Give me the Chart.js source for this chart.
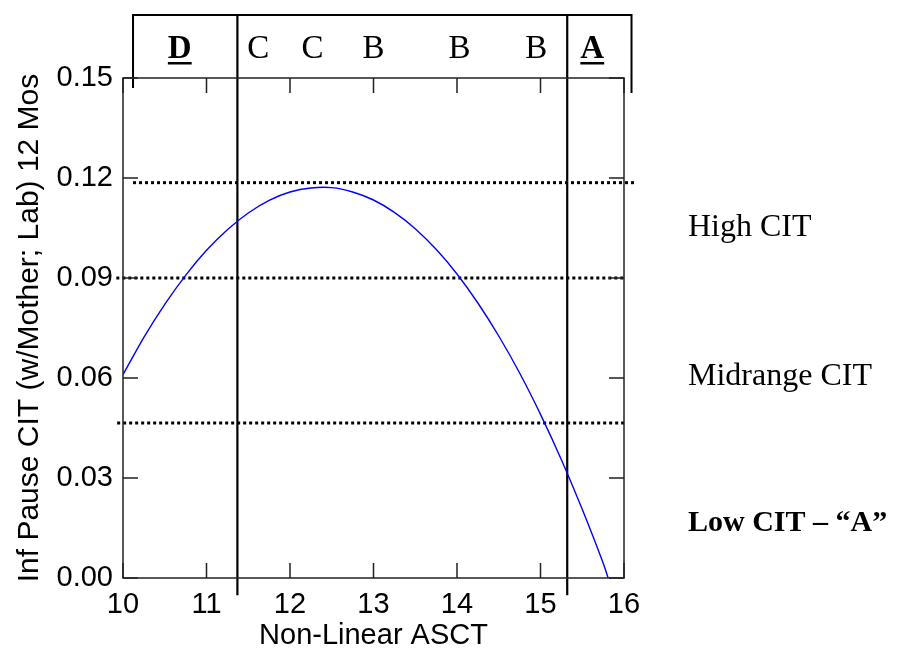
<!DOCTYPE html>
<html>
<head>
<meta charset="utf-8">
<script src="https://cdn.jsdelivr.net/npm/chart.js@4.4.1/dist/chart.umd.min.js"></script>
<style>
  html, body { margin: 0; padding: 0; background: #fff; }
  canvas { display: block; }
</style>
</head>
<body>
<canvas id="citChart" width="903" height="653"></canvas>
<script>
// fitted curve: Inf Pause CIT against Non-Linear ASCT
const ascct = [10, 10.25, 10.5, 10.75, 11, 11.25, 11.5, 11.75, 12, 12.25, 12.5, 12.75,
    13, 13.25, 13.5, 13.75, 14, 14.25, 14.5, 14.75, 15, 15.25, 15.5, 15.75, 15.81];
const citFit = [0.061, 0.0722, 0.0821, 0.0908, 0.0983, 0.1045, 0.1095, 0.1133, 0.1158, 0.117, 0.1171, 0.1158,
    0.1134, 0.1097, 0.1048, 0.0986, 0.0912, 0.0825, 0.0726, 0.0615, 0.0491, 0.0355, 0.0206, 0.0045, 0];

// CIT cut-offs (dotted) and ASCT cut-offs (solid)
const citCutoffs = [0.1186, 0.09, 0.0465];
const ascctCutoffs = [11.37, 15.32];

// grade letters along the top band
const gradeLetters = ['D', 'C', 'C', 'B', 'B', 'B', 'A'];
const gradeAt = [10.68, 11.62, 12.27, 13.0, 14.03, 14.95, 15.62];
const gradeBold = [true, false, false, false, false, false, true];

// zone names on the right
const zoneNames = ['High CIT', 'Midrange CIT', 'Low CIT \u2013 \u201CA\u201D'];
const zoneAt = [0.105, 0.0603, 0.0165];
const zoneBold = [false, false, true];

const xTicks = [10, 11, 12, 13, 14, 15, 16];
const yTicks = [0, 0.03, 0.06, 0.09, 0.12, 0.15];

const SANS = '"Liberation Sans", Arial, sans-serif';
const SERIF = '"Liberation Serif", "Times New Roman", serif';

const cutoffStarts = [10.12, 9.92, 9.93];
const cutoffEnds = [16.15, 16.0, 16.0];

const datasets = [{
    data: ascct.map((x, i) => ({ x, y: citFit[i] })),
    borderColor: '#0000ff',
    borderWidth: 1.4,
    pointRadius: 0,
    tension: 0.3,
}];

citCutoffs.forEach((c, i) => {
    datasets.push({
        data: [{ x: cutoffStarts[i], y: c }, { x: cutoffEnds[i], y: c }],
        borderColor: '#000',
        borderWidth: 3,
        borderDash: [3, 3],
        borderCapStyle: 'butt',
        pointRadius: 0,
        clip: false,
    });
});

ascctCutoffs.forEach(c => {
    datasets.push({
        data: [{ x: c, y: 0.1689 }, { x: c, y: -0.0052 }],
        borderColor: '#000',
        borderWidth: 2.2,
        pointRadius: 0,
        clip: false,
    });
});

// open box holding the grade letters (drawn right to left)
datasets.push({
    data: [{ x: 16.09, y: 0.1455 }, { x: 16.09, y: 0.1689 }, { x: 10.12, y: 0.1689 }, { x: 10.12, y: 0.147 }],
    borderColor: '#000',
    borderWidth: 2,
    pointRadius: 0,
    clip: false,
});

const frameAndLabels = {
    id: 'frameAndLabels',
    afterDatasetsDraw(chart) {
        const { ctx, chartArea: a, scales: { x, y } } = chart;
        ctx.save();
        ctx.strokeStyle = '#222';
        ctx.lineWidth = 1.5;
        ctx.strokeRect(a.left, a.top, a.right - a.left, a.bottom - a.top);

        // inward tick marks on all four sides
        const len = 15;
        ctx.beginPath();
        xTicks.forEach(v => {
            const px = x.getPixelForValue(v);
            ctx.moveTo(px, a.bottom); ctx.lineTo(px, a.bottom - len);
            ctx.moveTo(px, a.top); ctx.lineTo(px, a.top + len);
        });
        yTicks.forEach(v => {
            const py = y.getPixelForValue(v);
            ctx.moveTo(a.left, py); ctx.lineTo(a.left + len, py);
            ctx.moveTo(a.right, py); ctx.lineTo(a.right - len, py);
        });
        ctx.stroke();

        ctx.fillStyle = '#000';
        ctx.textBaseline = 'middle';
        ctx.textAlign = 'center';
        gradeLetters.forEach((g, i) => {
            ctx.font = (gradeBold[i] ? 'bold ' : '') + '33px ' + SERIF;
            const px = x.getPixelForValue(gradeAt[i]);
            const py = a.top - 29;
            ctx.fillText(g, px, py);
            if (gradeBold[i]) {
                const w = ctx.measureText(g).width;
                ctx.fillRect(px - w / 2, py + 13, w, 2.5);
            }
        });

        ctx.textAlign = 'left';
        zoneNames.forEach((z, i) => {
            ctx.font = (zoneBold[i] ? 'bold 30px ' : '32px ') + SERIF;
            ctx.fillText(z, 688, y.getPixelForValue(zoneAt[i]));
        });
        ctx.restore();
    }
};

new Chart(document.getElementById('citChart'), {
    type: 'line',
    data: { datasets },
    plugins: [frameAndLabels],
    options: {
        responsive: false,
        animation: false,
        layout: { padding: { top: 78, right: 279, left: 0, bottom: 0 } },
        plugins: { legend: { display: false }, tooltip: { enabled: false } },
        scales: {
            x: {
                type: 'linear',
                min: 10,
                max: 16,
                afterFit: s => { s.height = 75; },
                grid: { display: false, drawTicks: false },
                border: { display: false },
                ticks: {
                    stepSize: 1,
                    padding: 10,
                    color: '#000',
                    font: { family: SANS, size: 29 },
                },
                title: {
                    display: true,
                    text: 'Non-Linear ASCT',
                    color: '#000',
                    font: { family: SANS, size: 29 },
                    padding: 0,
                },
            },
            y: {
                min: 0,
                max: 0.15,
                afterFit: s => { s.width = 123; },
                grid: { display: false, drawTicks: false },
                border: { display: false },
                ticks: {
                    stepSize: 0.03,
                    padding: 10,
                    color: '#000',
                    font: { family: SANS, size: 29 },
                    callback: v => v.toFixed(2),
                },
                title: {
                    display: true,
                    text: 'Inf Pause CIT (w/Mother; Lab) 12 Mos',
                    color: '#000',
                    font: { family: SANS, size: 30 },
                    padding: { top: 12 },
                },
            },
        },
    },
});
</script>
</body>
</html>
